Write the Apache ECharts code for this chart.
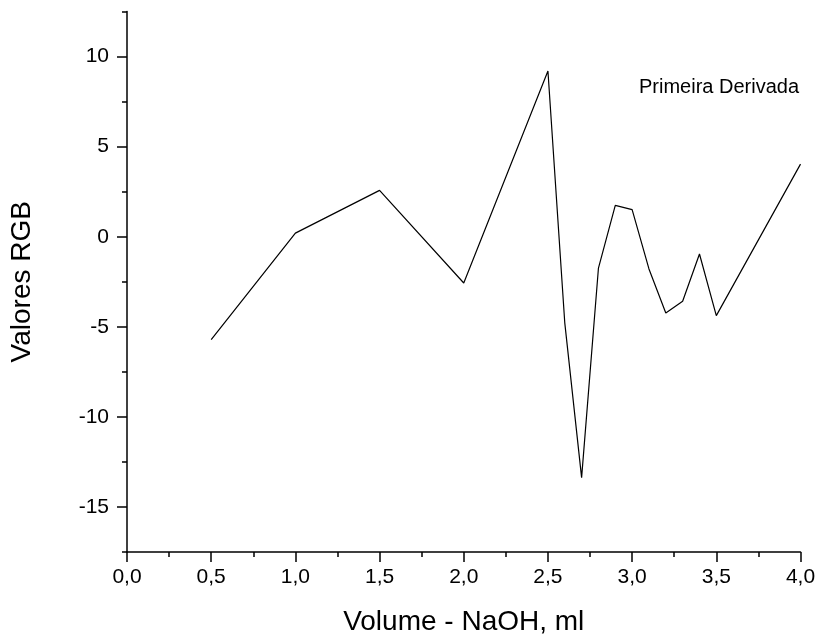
<!DOCTYPE html>
<html>
<head>
<meta charset="utf-8">
<script src="https://cdn.jsdelivr.net/npm/echarts@6/dist/echarts.min.js"></script>
<style>
html,body{margin:0;padding:0;background:#fff;}
#chart{width:820px;height:641px;}
</style>
</head>
<body>
<div id="chart"></div>
<script>
const xValues = [0.5, 1.0, 1.5, 2.0, 2.5, 2.6, 2.7, 2.8, 2.9, 3.0, 3.1, 3.2, 3.3, 3.4, 3.5, 4.0];
const yValues = [-5.71, 0.2, 2.57, -2.57, 9.2, -4.78, -13.37, -1.74, 1.74, 1.5, -1.79, -4.23, -3.58, -0.96, -4.38, 4.03];
const yMajorTicks = [-15, -10, -5, 0, 5, 10];
const yMinorTicks = [-17.5, -12.5, -7.5, -2.5, 2.5, 7.5, 12.5];
const seriesName = 'Primeira Derivada';
const xTitle = 'Volume - NaOH, ml';
const yTitle = 'Valores RGB';

const FONT = '"Liberation Sans", Arial, sans-serif';
const chart = echarts.init(document.getElementById('chart'), null, {renderer: 'canvas'});
const axisLine = {show: true, onZero: false, lineStyle: {color: '#000', width: 1.5}};
chart.setOption({
  animation: false,
  backgroundColor: '#fff',
  grid: {left: 126.5, right: 19.5, top: 11.5, bottom: 88.3, containLabel: false},
  graphic: [{
    type: 'text', left: 639, top: 77,
    style: {text: seriesName, fontFamily: FONT, fontSize: 20, fill: '#000'}
  }],
  xAxis: {
    type: 'value', min: 0, max: 4, interval: 0.5,
    position: 'bottom',
    name: xTitle, nameLocation: 'middle', nameGap: 56,
    nameTextStyle: {fontFamily: FONT, fontSize: 28, color: '#000'},
    axisLine: axisLine,
    axisTick: {show: true, length: 10, lineStyle: {color: '#000', width: 1.5}},
    minorTick: {show: true, splitNumber: 2, length: 5, lineStyle: {color: '#000', width: 1.5}},
    splitLine: {show: false},
    axisLabel: {fontFamily: FONT, fontSize: 21, color: '#000', margin: 15,
      formatter: v => v.toFixed(1).replace('.', ',')}
  },
  yAxis: [{
    type: 'value', min: -17.5, max: 12.5,
    position: 'left',
    name: yTitle, nameLocation: 'middle', nameGap: 91,
    nameTextStyle: {fontFamily: FONT, fontSize: 28, color: '#000'},
    axisLine: axisLine,
    axisTick: {show: true, length: 10, customValues: yMajorTicks, lineStyle: {color: '#000', width: 1.5}},
    splitLine: {show: false},
    axisLabel: {fontFamily: FONT, fontSize: 21, color: '#000', margin: 18, customValues: yMajorTicks,
      formatter: v => String(v)}
  }, {
    type: 'value', min: -17.5, max: 12.5,
    position: 'left',
    axisLine: {show: false, onZero: false},
    axisTick: {show: true, length: 5, customValues: yMinorTicks, lineStyle: {color: '#000', width: 1.5}},
    axisLabel: {show: false},
    splitLine: {show: false}
  }],
  series: [{
    name: seriesName,
    type: 'line',
    yAxisIndex: 0,
    data: xValues.map((x, i) => [x, yValues[i]]),
    showSymbol: false,
    symbol: 'none',
    lineStyle: {color: '#000', width: 1.2},
    emphasis: {disabled: true}
  }]
});
</script>
</body>
</html>
